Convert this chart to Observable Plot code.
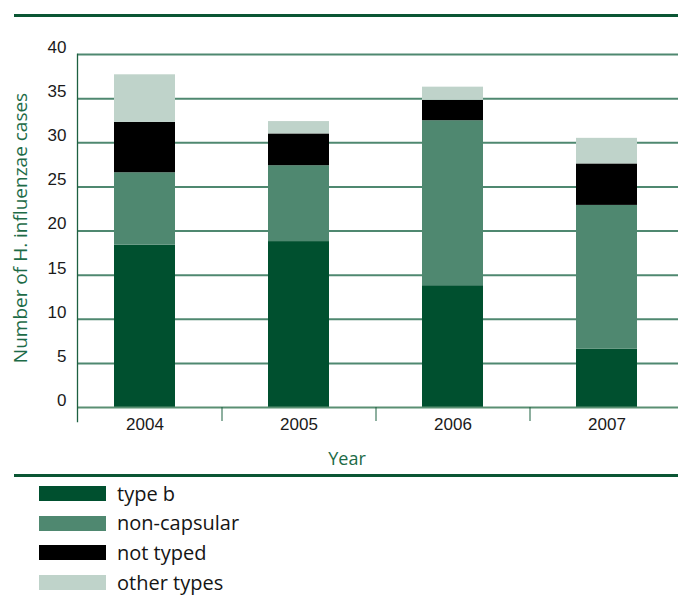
<!DOCTYPE html>
<html>
<head>
<meta charset="utf-8">
<script src="https://cdn.jsdelivr.net/npm/d3@7"></script>
<script src="https://cdn.jsdelivr.net/npm/@observablehq/plot@0.6"></script>
<style>
  html, body { margin: 0; padding: 0; background: #fff; }
  #wrap { position: relative; width: 678px; height: 595px; overflow: hidden; }
  #chart { position: absolute; left: 0; top: 0; }
  .sep { position: absolute; left: 14px; width: 664px; height: 3px; background: #0b5634; }
  #legend { position: absolute; left: 39px; top: 478.6px; font-family: "Open Sans", Lato, sans-serif; font-size: 20px; color: #151515; }
  .item { display: flex; align-items: center; height: 29.7px; }
  .sw { width: 67px; height: 15px; margin-right: 11px; flex: none; }
  .item span { line-height: 29.7px; white-space: nowrap; }
</style>
</head>
<body>
<div id="wrap">
  <div id="chart"></div>
  <div class="sep" style="top:13.5px"></div>
  <div class="sep" style="top:474px"></div>
  <div id="legend"></div>
</div>
<script>
const years = ["2004", "2005", "2006", "2007"];
const seriesNames = ["type b", "non-capsular", "not typed", "other types"];
const typeB = [18.4, 18.8, 13.8, 6.6];
const nonCapsular = [8.2, 8.6, 18.7, 16.3];
const notTyped = [5.7, 3.6, 2.3, 4.7];
const otherTypes = [5.4, 1.4, 1.5, 2.9];
const seriesColors = ["#00502f", "#4f8870", "#000000", "#bfd3ca"];
const yTicks = [0, 5, 10, 15, 20, 25, 30, 35, 40];
const yTitle = "Number of H. influenzae cases";
const xTitle = "Year";

const seriesValues = [typeB, nonCapsular, notTyped, otherTypes];
const data = [];
years.forEach((yr, i) => {
  seriesNames.forEach((s, j) => data.push({year: yr, series: s, value: seriesValues[j][i]}));
});

const tickFont = "'Liberation Sans', Arial, sans-serif";
const titleFont = "'Open Sans', Lato, sans-serif";
const chart = Plot.plot({
  width: 678,
  height: 470,
  marginTop: 54,
  marginLeft: 77,
  marginRight: 0,
  marginBottom: 63,
  style: {background: "transparent", overflow: "visible"},
  x: {domain: years, range: [67, 683], paddingInner: 0.604, paddingOuter: 0.302, align: 0.5},
  y: {domain: [0, 40]},
  color: {domain: seriesNames, range: seriesColors},
  marks: [
    Plot.ruleY(yTicks.filter(d => d > 0), {stroke: "#4f8870", strokeWidth: 2}),
    Plot.barY(data, {x: "year", y: "value", fill: "series", order: seriesNames}),
    Plot.ruleY([0], {stroke: "#5a8f73", strokeWidth: 2}),
    Plot.frame({anchor: "left", stroke: "#1d6040", strokeWidth: 1.3, insetBottom: -14}),
    Plot.axisY({ticks: yTicks, tickSize: 0, tickPadding: 11, dy: -7, label: null,
      fontSize: 17, fontFamily: tickFont, fill: "#1a1a1a"}),
    Plot.axisX({tickSize: 0, tickPadding: 10, label: null,
      fontSize: 17, fontFamily: tickFont, fill: "#1a1a1a"}),
    Plot.axisX({ticks: years.slice(1), dx: -77, text: null, tickSize: 14, stroke: "#1d6040", label: null}),
    Plot.text([xTitle], {text: d => d, frameAnchor: "bottom", lineAnchor: "middle", textAnchor: "middle",
      dx: -31, dy: 52, fontSize: 18, fontFamily: titleFont, fill: "#1d6b47"}),
    Plot.text([yTitle], {text: d => d, frameAnchor: "left", textAnchor: "middle", lineAnchor: "middle",
      rotate: -90, dx: -57, dy: -3, fontSize: 19, fontFamily: titleFont, fill: "#1d6b47"})
  ]
});
document.getElementById("chart").append(chart);

const legend = document.getElementById("legend");
seriesNames.forEach((s, i) => {
  const it = document.createElement("div");
  it.className = "item";
  const sw = document.createElement("div");
  sw.className = "sw";
  sw.style.background = seriesColors[i];
  const tx = document.createElement("span");
  tx.textContent = s;
  it.append(sw, tx);
  legend.append(it);
});
</script>
</body>
</html>
